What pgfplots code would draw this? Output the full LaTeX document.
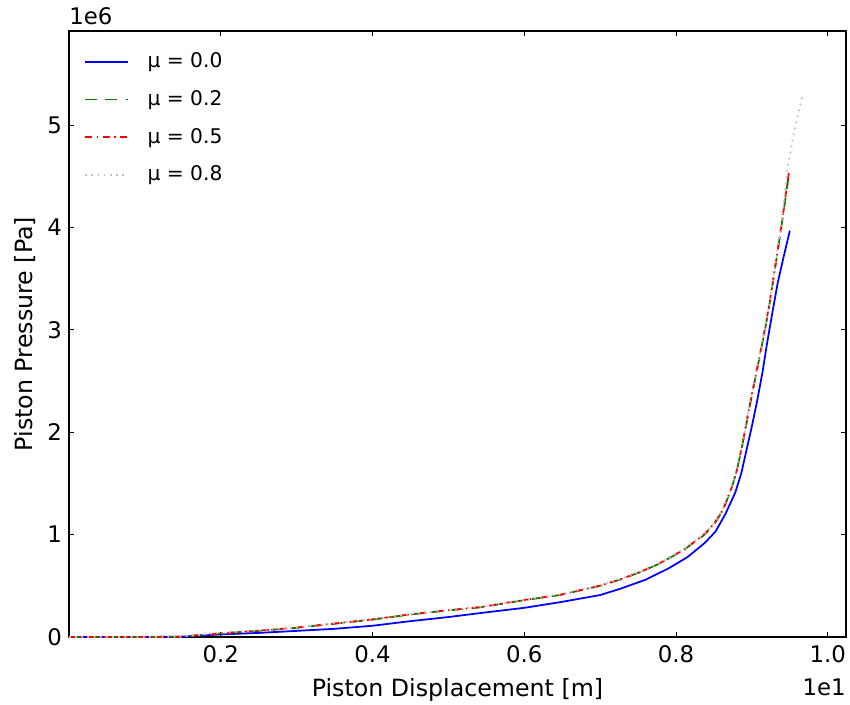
\documentclass[border=0pt]{standalone}
\usepackage{fontspec}
\setmainfont{DejaVu Sans}
\usepackage{pgfplots}
\pgfplotsset{compat=1.18}
\definecolor{mplblue}{rgb}{0,0,1}
\definecolor{mplgreen}{rgb}{0,0.5,0}
\definecolor{mplred}{rgb}{1,0,0}
\definecolor{mplgray}{rgb}{0.75,0.75,0.75}
\begin{document}
\begin{tikzpicture}
\begin{axis}[
  name=ax,
  at={(0,0)}, anchor=south west,
  scale only axis,
  width=15.54cm, height=12.12cm,
  xmin=0, xmax=1.024, ymin=0, ymax=5.92,
  axis line style={black, line width=0.8pt},
  tick align=inside,
  tick pos=both,
  major tick length=0.1cm,
  tick style={black, line width=0.6pt},
  xtick={0.2,0.4,0.6,0.8,1.0},
  xticklabels={0.2,0.4,0.6,0.8,1.0},
  ytick={0,1,2,3,4,5},
  yticklabels={0,1,2,3,4,5},
  ticklabel style={font=\fontsize{13pt}{15pt}\selectfont},
  xticklabel style={yshift=-0.05cm},
  yticklabel style={xshift=-0.02cm},
  xlabel={Piston Displacement [m]},
  ylabel={Piston Pressure [Pa]},
  label style={font=\fontsize{13.5pt}{16pt}\selectfont},
  xlabel style={at={(axis description cs:0.5,-0.0875)}, anchor=center},
  ylabel style={at={(axis description cs:-0.0567,0.5)}, anchor=center, rotate=0},
  legend style={at={(0.0125,0.976)}, anchor=north west, draw=none, fill=none,
    font=\fontsize{11.5pt}{13pt}\selectfont, row sep=0.26cm,
    /tikz/every odd column/.append style={column sep=0.3cm}},
  legend cell align=left,
  legend image code/.code={\draw[#1] (0cm,0cm) -- (0.86cm,0cm);},
]
\addplot[color=mplblue, line width=1pt] coordinates {
(0.0,0) (0.10,0) (0.147,0.003) (0.20,0.025) (0.25,0.04) (0.30,0.06) (0.35,0.08)
(0.40,0.11) (0.45,0.155) (0.50,0.195) (0.542,0.234) (0.60,0.285) (0.647,0.34)
(0.70,0.41) (0.726,0.47) (0.76,0.56) (0.79,0.67) (0.815,0.78) (0.838,0.92) (0.852,1.03)
(0.865,1.2) (0.878,1.41) (0.886,1.6) (0.893,1.83) (0.900,2.06) (0.907,2.31) (0.914,2.59)
(0.920,2.87) (0.927,3.17) (0.934,3.46) (0.942,3.72) (0.950,3.97)
};
\addlegendentry{μ = 0.0}
\addplot[color=mplgreen, line width=1pt, dash pattern=on 6.5pt off 5pt] coordinates {
(0.0,0) (0.10,0) (0.147,0.003) (0.20,0.035) (0.25,0.06) (0.30,0.09) (0.35,0.13)
(0.40,0.17) (0.45,0.22) (0.50,0.26) (0.542,0.29) (0.60,0.36) (0.647,0.41)
(0.70,0.50) (0.726,0.56) (0.755,0.64) (0.779,0.72) (0.81,0.85) (0.836,0.99) (0.850,1.10)
(0.862,1.24) (0.873,1.45) (0.880,1.62) (0.887,1.86) (0.897,2.25) (0.904,2.51) (0.911,2.77)
(0.918,3.03) (0.924,3.29) (0.933,3.72) (0.941,4.12) (0.949,4.53)
};
\addlegendentry{μ = 0.2}
\addplot[color=mplred, line width=1pt, dash pattern=on 4pt off 2.5pt on 1pt off 2.5pt] coordinates {
(0.0,0) (0.10,0) (0.147,0.003) (0.20,0.036) (0.25,0.062) (0.30,0.092) (0.35,0.132)
(0.40,0.172) (0.45,0.222) (0.50,0.262) (0.542,0.292) (0.60,0.362) (0.647,0.412)
(0.70,0.502) (0.726,0.562) (0.755,0.642) (0.779,0.722) (0.81,0.852) (0.836,0.995) (0.850,1.105)
(0.862,1.245) (0.873,1.455) (0.880,1.625) (0.887,1.865) (0.897,2.26) (0.904,2.52) (0.911,2.78)
(0.918,3.04) (0.924,3.30) (0.933,3.73) (0.941,4.13) (0.949,4.55)
};
\addlegendentry{μ = 0.5}
\addplot[color=mplgray, line width=1pt, dash pattern=on 1pt off 2.5pt] coordinates {
(0.0,0) (0.10,0) (0.147,0.004) (0.20,0.04) (0.25,0.065) (0.30,0.095) (0.35,0.135)
(0.40,0.175) (0.45,0.225) (0.50,0.265) (0.542,0.295) (0.60,0.365) (0.647,0.415)
(0.70,0.505) (0.726,0.565) (0.755,0.645) (0.779,0.725) (0.81,0.855) (0.836,1.0) (0.850,1.11)
(0.862,1.25) (0.873,1.46) (0.880,1.63) (0.887,1.87) (0.897,2.27) (0.904,2.53) (0.911,2.79)
(0.918,3.05) (0.924,3.31) (0.933,3.74) (0.941,4.16) (0.947,4.59) (0.956,4.95) (0.966,5.27)
};
\addlegendentry{μ = 0.8}
\end{axis}
\node[anchor=base west, font=\fontsize{13pt}{15pt}\selectfont, inner sep=0pt] at ([yshift=0.12cm]ax.north west) {1e6};
\node[anchor=base east, font=\fontsize{13pt}{15pt}\selectfont, inner sep=0pt] at ([yshift=-1.16cm]ax.south east) {1e1};
\pgfresetboundingbox
\path[use as bounding box] (-1.38cm,-1.34cm) rectangle (15.62cm,12.74cm);
\end{tikzpicture}
\end{document}
